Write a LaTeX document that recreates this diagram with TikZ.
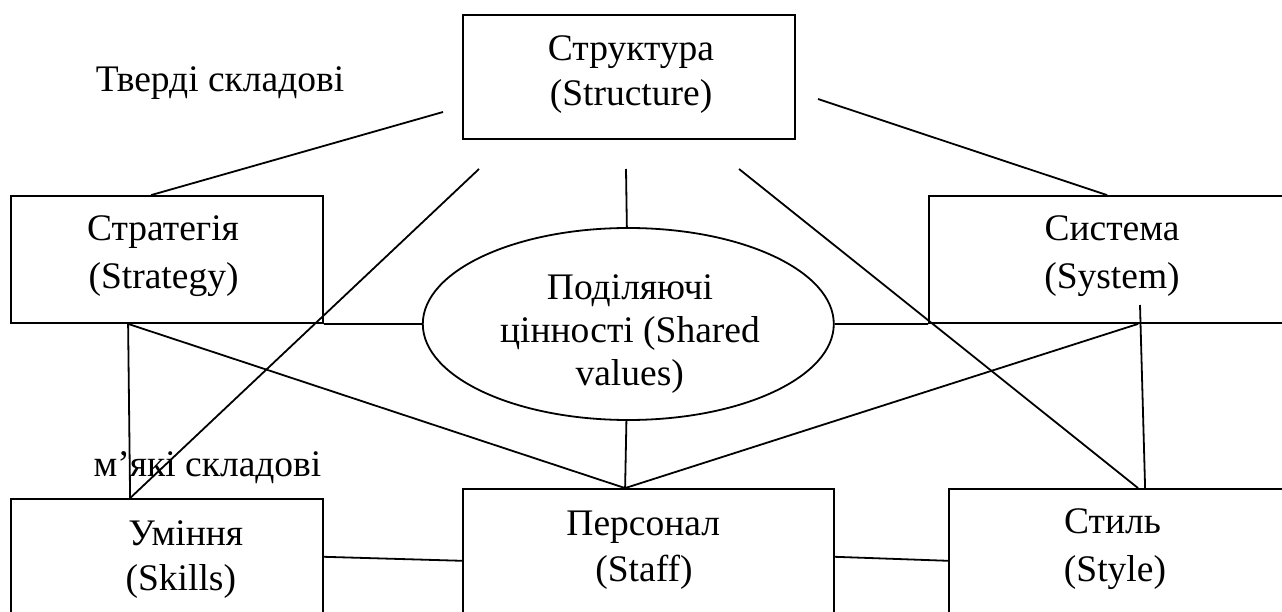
\documentclass[tikz,border=0pt]{standalone}
\usepackage{fontspec}
\setmainfont{Liberation Serif}
\usetikzlibrary{shapes.geometric}
\tikzset{
  box/.style={draw, rectangle, line width=1.8pt, inner sep=0pt},
  oval/.style={draw, ellipse, line width=1.8pt, inner sep=0pt},
  lbl/.style={anchor=base, inner sep=0pt, font=\fontsize{37.5}{45}\selectfont},
  conn/.style={line width=1.8pt}
}
\begin{document}
\begin{tikzpicture}[x=1pt,y=-1pt]
\path[use as bounding box, clip] (0,0) rectangle (1282,612);
\fill[white] (0,0) rectangle (1282,612);
% boxes
\node[box, minimum width=332pt, minimum height=124pt] (struct) at (629,77) {};
\node[box, minimum width=312pt, minimum height=127pt] (strat) at (167,259.5) {};
\node[box, minimum width=371pt, minimum height=127pt] (sys) at (1114.5,259.5) {};
\node[box, minimum width=312pt, minimum height=141pt] (skills) at (167,569.5) {};
\node[box, minimum width=371pt, minimum height=151pt] (staff) at (648.5,564.5) {};
\node[box, minimum width=351pt, minimum height=151pt] (sty) at (1124.5,564.5) {};
\node[oval, minimum width=411pt, minimum height=192pt] (sv) at (628.3,324) {};
% free ends
\coordinate (a1) at (443,112);
\coordinate (a2) at (818,99);
\coordinate (a3) at (479,169);
\coordinate (a4) at (626,169);
\coordinate (a5) at (739,169);
\coordinate (a12) at (1140,305);
% connectors
\draw[conn] (a1) -- ([xshift=141pt]strat.north west);
\draw[conn] (a2) -- ([xshift=179pt]sys.north west);
\draw[conn] (a3) -- ([xshift=120pt]skills.north west);
\draw[conn] (a4) -- (sv);
\draw[conn] (a5) -- ([xshift=190pt]sty.north west);
\draw[conn] (strat.south east) -- (sv.west);
\draw[conn] (sv.east) -- (sys.south west);
\draw[conn] ([xshift=118pt]strat.south west) -- ([xshift=120pt]skills.north west);
\draw[conn] ([xshift=118pt]strat.south west) -- ([xshift=163pt]staff.north west);
\draw[conn] ([xshift=163pt]staff.north west) -- (sv);
\draw[conn] ([xshift=210pt]sys.south west) -- ([xshift=163pt]staff.north west);
\draw[conn] (a12) -- ([xshift=197pt]sty.north west);
\draw[conn] ([yshift=-58.7pt]skills.north east) -- ([yshift=-72.7pt]staff.north west);
\draw[conn] ([yshift=-68.7pt]staff.north east) -- ([yshift=-72.7pt]sty.north west);
% texts
\node[lbl] (tv) at (220,92) {Тверді складові};
\node[lbl] (mk) at (207.5,476.7) {м’які складові};
\node[lbl] (struct1) at (631,61) {Структура};
\node[lbl] (struct2) at (631,106) {(Structure)};
\node[lbl] (strat1) at (163,240.7) {Стратегія};
\node[lbl] (strat2) at (163.5,288) {(Strategy)};
\node[lbl] (sys1) at (1112,240.7) {Система};
\node[lbl] (sys2) at (1112,288) {(System)};
\node[lbl] (sv1) at (630,300) {Поділяючі};
\node[lbl] (sv2) at (630,342.7) {цінності (Shared};
\node[lbl] (sv3) at (629.7,385) {values)};
\node[lbl] (sk1) at (185.8,545) {Уміння};
\node[lbl] (sk2) at (180.8,590) {(Skills)};
\node[lbl] (st1) at (643.3,535) {Персонал};
\node[lbl] (st2) at (644,581.7) {(Staff)};
\node[lbl] (sy1) at (1112.5,533.3) {Стиль};
\node[lbl] (sy2) at (1115,581.7) {(Style)};
\end{tikzpicture}
\end{document}
